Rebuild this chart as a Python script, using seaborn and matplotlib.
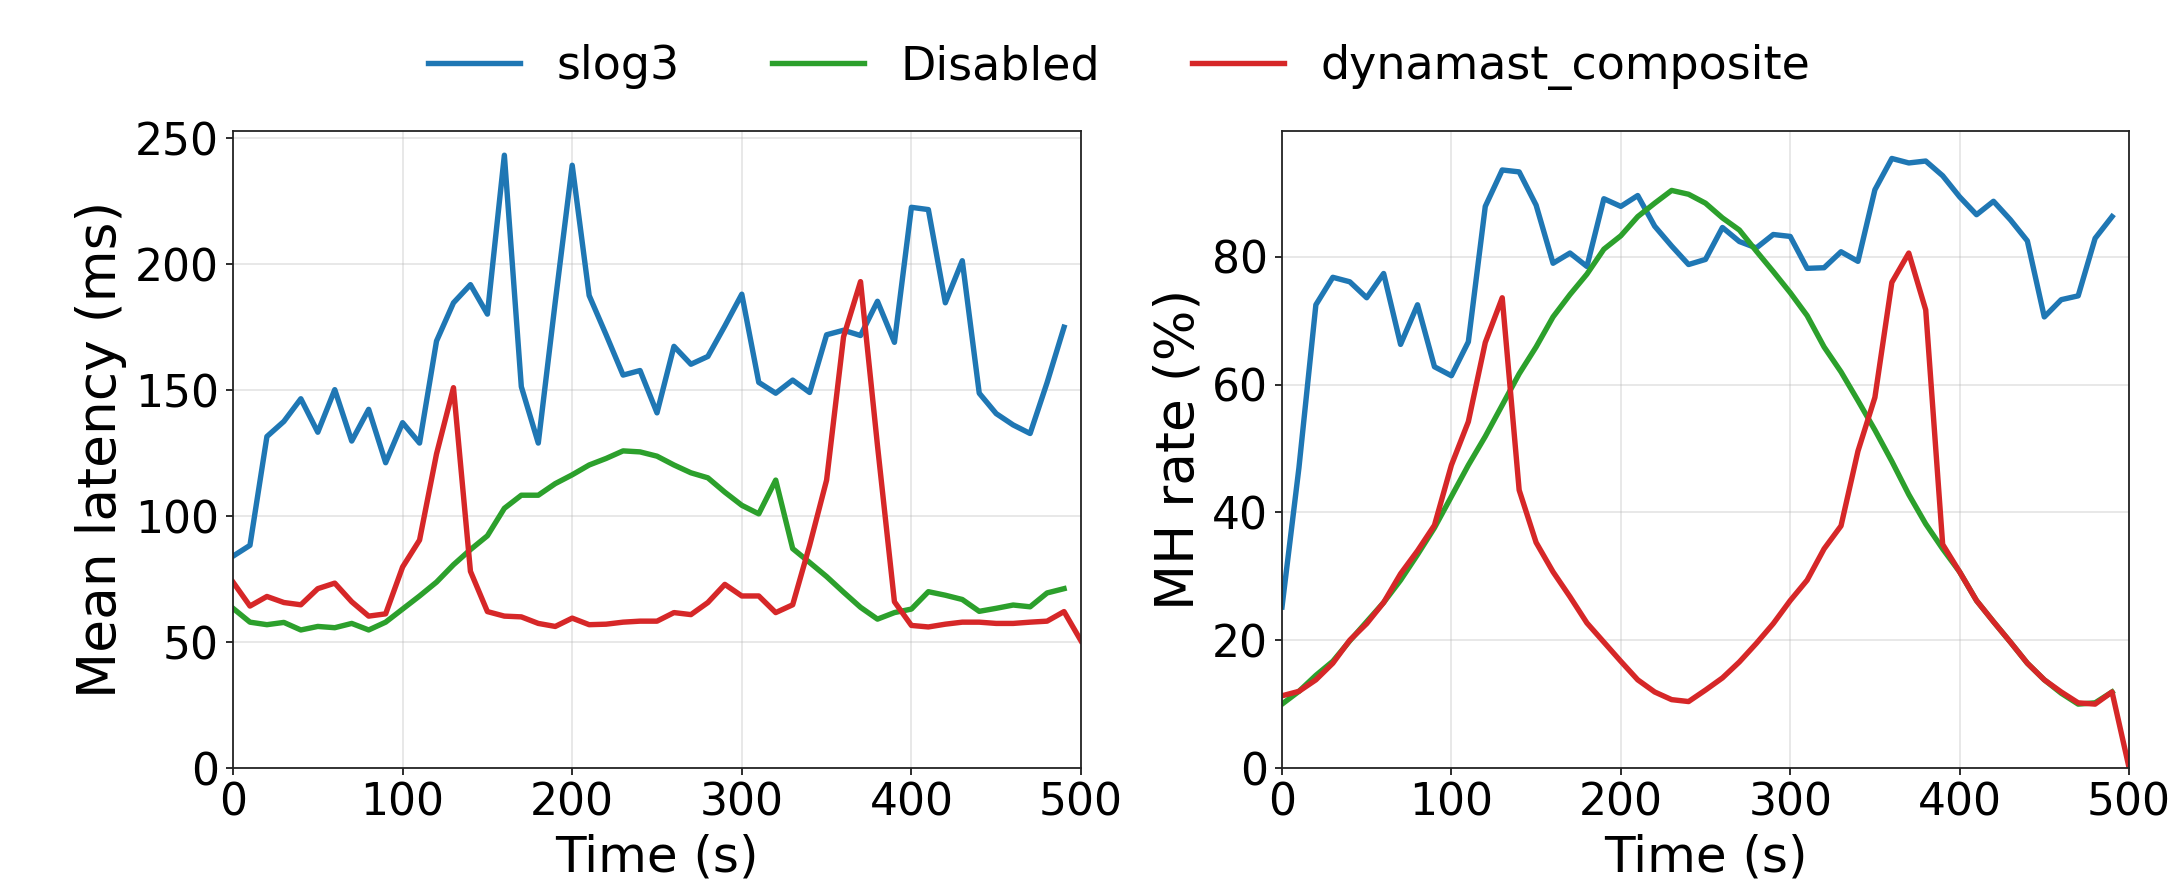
import numpy as np
import pandas as pd
import matplotlib
matplotlib.use("Agg")
import matplotlib.pyplot as plt
import seaborn as sns

# ---------------- data ----------------
series_names = ["slog3", "Disabled", "dynamast_composite"]
series_colors = ["#1f77b4", "#2ca02c", "#d62728"]

time_main = list(range(0, 500, 10))      # 0..490
time_full = list(range(0, 510, 10))      # 0..500

latency_slog3 = [84.1, 88.4, 131.6, 137.6, 146.6, 133.3, 150.2, 129.8, 142.4, 121.2,
                 137.1, 129.0, 169.5, 184.7, 191.9, 180.2, 243.3, 151.4, 129.0, 185.0,
                 239.3, 187.6, 172.0, 156.0, 157.8, 141.0, 167.4, 160.3, 163.4, 175.5,
                 188.1, 153.1, 148.8, 154.0, 149.1, 172.0, 173.8, 171.7, 185.3, 169.0,
                 222.6, 221.7, 184.7, 201.4, 148.8, 140.7, 136.2, 132.8, 153.0, 175.0]
latency_disabled = [63.4, 57.9, 56.9, 57.8, 54.8, 56.2, 55.7, 57.4, 54.8, 57.9,
                    63.1, 68.3, 73.8, 80.7, 86.7, 92.2, 103.1, 108.3, 108.3, 112.9,
                    116.4, 120.3, 122.9, 125.9, 125.5, 123.8, 120.3, 117.2, 115.2, 109.5,
                    104.3, 100.9, 114.3, 87.1, 81.6, 76.0, 69.8, 63.8, 59.1, 61.7,
                    63.1, 70.0, 68.6, 66.9, 62.2, 63.4, 64.7, 64.0, 69.5, 71.2]
latency_dynamast = [73.8, 64.3, 68.1, 65.7, 64.8, 71.2, 73.4, 66.0, 60.3, 61.2,
                    79.8, 90.5, 124.7, 151.0, 78.1, 62.1, 60.3, 60.0, 57.4, 56.2,
                    59.5, 56.9, 57.1, 57.9, 58.3, 58.3, 61.7, 60.9, 65.7, 72.9,
                    68.3, 68.3, 61.7, 64.8, 88.4, 114.3, 171.2, 193.1, 128.0, 66.0,
                    56.6, 56.0, 57.1, 57.9, 57.9, 57.4, 57.4, 57.9, 58.3, 62.1,
                    50.5]

mh_slog3 = [25.2, 47.0, 72.5, 76.8, 76.1, 73.6, 77.4, 66.3, 72.5, 62.8,
            61.4, 66.7, 87.9, 93.6, 93.3, 88.1, 79.0, 80.6, 78.5, 89.1,
            87.9, 89.6, 84.8, 81.7, 78.8, 79.6, 84.6, 82.4, 81.4, 83.5,
            83.2, 78.2, 78.3, 80.8, 79.3, 90.5, 95.4, 94.7, 95.0, 92.7,
            89.4, 86.6, 88.7, 85.8, 82.5, 70.6, 73.3, 73.9, 82.9, 86.3]
mh_disabled = [10.0, 12.0, 14.5, 16.7, 19.9, 22.9, 25.9, 29.4, 33.4, 37.6,
               42.5, 47.4, 51.9, 56.8, 61.7, 65.9, 70.6, 74.1, 77.3, 81.2,
               83.3, 86.3, 88.4, 90.4, 89.8, 88.4, 86.1, 84.2, 80.9, 77.7,
               74.4, 70.8, 65.9, 62.0, 57.5, 52.9, 48.0, 42.8, 38.2, 34.3,
               30.7, 26.2, 22.9, 19.7, 16.4, 13.8, 11.7, 10.0, 10.2, 11.9]
mh_dynamast = [11.3, 12.0, 13.8, 16.4, 20.0, 22.6, 25.9, 30.4, 34.0, 38.0,
               47.4, 54.2, 66.6, 73.6, 43.5, 35.3, 30.7, 26.8, 22.7, 19.7,
               16.7, 13.8, 11.9, 10.7, 10.4, 12.2, 14.1, 16.6, 19.5, 22.6,
               26.2, 29.4, 34.3, 37.9, 49.6, 58.0, 76.0, 80.6, 71.7, 35.0,
               30.7, 26.2, 22.9, 19.7, 16.4, 13.8, 11.9, 10.2, 10.0, 11.9,
               0.1]

xticks = [0, 100, 200, 300, 400, 500]
lat_yticks = [0, 50, 100, 150, 200, 250]
mh_yticks = [0, 20, 40, 60, 80]


def long_frame(a, b, c):
    parts = []
    for name, tt, vals in zip(series_names, [time_main, time_main, time_full], [a, b, c]):
        parts.append(pd.DataFrame({"Time": tt, "Value": vals, "Series": name}))
    return pd.concat(parts, ignore_index=True)


df_lat = long_frame(latency_slog3, latency_disabled, latency_dynamast)
df_mh = long_frame(mh_slog3, mh_disabled, mh_dynamast)

# ---------------- figure ----------------
DPI = 144
fig = plt.figure(figsize=(2175 / DPI, 879 / DPI), dpi=DPI)
W, H = 2175, 879
ax1 = fig.add_axes([233 / W, (H - 768) / H, 848 / W, 637 / H])
ax2 = fig.add_axes([1282 / W, (H - 768) / H, 847 / W, 637 / H])

palette = dict(zip(series_names, series_colors))
LW = 2.7

for ax, df, ylab, yticks, ytop in [
    (ax1, df_lat, "Mean latency (ms)", lat_yticks, 252.9),
    (ax2, df_mh, "MH rate (%)", mh_yticks, 99.7),
]:
    sns.lineplot(data=df, x="Time", y="Value", hue="Series", hue_order=series_names,
                 palette=palette, linewidth=LW, errorbar=None, ax=ax, legend=False,
                 sort=False)
    ax.set_xlim(0, 500)
    ax.set_ylim(0, ytop)
    ax.set_xticks(xticks)
    ax.set_yticks(yticks)
    ax.grid(True, color="#b0b0b0", alpha=0.35, linewidth=0.8)
    ax.set_axisbelow(True)
    ax.tick_params(axis="both", labelsize=22, length=3.5, width=0.8, pad=3.5)
    ax.set_xlabel("Time (s)", fontsize=25)
    ax.set_ylabel(ylab, fontsize=26.7)
    for sp in ax.spines.values():
        sp.set_color("#222222")
        sp.set_linewidth(0.9)

handles = [plt.Line2D([0], [0], color=c, lw=LW) for c in series_colors]
fig.legend(handles, series_names, loc="center", ncol=3, frameon=False,
           bbox_to_anchor=(0.5146, 1 - 67 / H), fontsize=23,
           handlelength=2.0, columnspacing=2.0, handletextpad=0.8)

fig.savefig("out.png", dpi=DPI)
